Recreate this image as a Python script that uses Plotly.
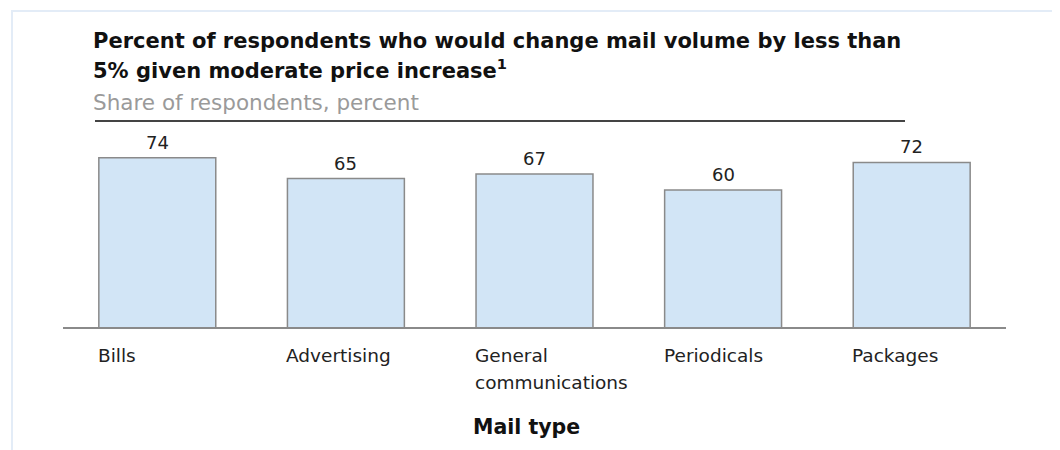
import plotly.graph_objects as go

categories = ["Bills", "Advertising", "General<br>communications", "Periodicals", "Packages"]
values = [74, 65, 67, 60, 72]
title_lines = ["Percent of respondents who would change mail volume by less than",
               "5% given moderate price increase<sup>1</sup>"]
subtitle_text = "Share of respondents, percent"
x_title = "Mail type"

# figure is placed by the page at (8, 8); screen coordinates below are converted
OFF = 8
W, H = 1052, 442
ML, MR, MT, MB = 55, 54, 113, 122
PW, PH = W - ML - MR, H - MT - MB
FONT = "DejaVu Sans, Verdana, sans-serif"
BAR_W = 0.62


def sx(p):
    return (p - OFF - ML) / PW


def sy(p):
    return (H - MB - (p - OFF)) / PH


xs = list(range(len(categories)))

fig = go.Figure()
fig.add_trace(go.Bar(
    x=xs, y=values, width=BAR_W,
    marker=dict(color="#d2e5f6", line=dict(color="#8a8a8a", width=1.5)),
    hoverinfo="skip",
))

annotations = []
for i, v in zip(xs, values):
    annotations.append(dict(x=i, y=v, xref="x", yref="y", text=str(v), showarrow=False,
                            yanchor="bottom", yshift=3,
                            font=dict(family=FONT, size=18, color="#222")))
for i, c in zip(xs, categories):
    for k, line in enumerate(c.split("<br>")):
        annotations.append(dict(x=i - BAR_W / 2, y=sy(355 + 27 * k), xref="x", yref="paper", text=line,
                                showarrow=False, xanchor="left", yanchor="middle", xshift=-3,
                                font=dict(family=FONT, size=18.5, color="#222")))
annotations.append(dict(x=sx(526.5), y=sy(427), xref="paper", yref="paper",
                        text="<b>%s</b>" % x_title, showarrow=False,
                        xanchor="center", yanchor="middle",
                        font=dict(family=FONT, size=20.5, color="#111")))
for k, line in enumerate(title_lines):
    annotations.append(dict(x=sx(91), y=sy(40.8 + 28.4 * k), xref="paper", yref="paper",
                            text="<b>%s</b>" % line, showarrow=False,
                            xanchor="left", yanchor="middle",
                            font=dict(family=FONT, size=21, color="#111")))
annotations.append(dict(x=sx(91), y=sy(102.5), xref="paper", yref="paper", text=subtitle_text,
                        showarrow=False, xanchor="left", yanchor="middle",
                        font=dict(family=FONT, size=21.5, color="#9a9a9a")))

shapes = [
    # header rule
    dict(type="line", xref="paper", yref="paper", x0=sx(95), x1=sx(905), y0=sy(121), y1=sy(121),
         line=dict(color="#444", width=2)),
    # baseline
    dict(type="line", xref="paper", yref="paper", x0=0, x1=1, y0=0, y1=0,
         line=dict(color="#8a8a8a", width=2)),
    # outer frame
    dict(type="rect", xref="paper", yref="paper", x0=sx(12), x1=sx(1057), y0=sy(480), y1=sy(11),
         line=dict(color="#e3ecf7", width=2), layer="below"),
]

fig.update_layout(
    width=W, height=H,
    margin=dict(l=ML, r=MR, t=MT, b=MB, pad=0),
    paper_bgcolor="white", plot_bgcolor="white",
    showlegend=False,
    xaxis=dict(range=[-0.5, 4.5], showticklabels=False, showgrid=False, zeroline=False, showline=False,
               ticks="", fixedrange=True),
    yaxis=dict(range=[0, 90], showticklabels=False, showgrid=False, zeroline=False, showline=False,
               ticks="", fixedrange=True),
    annotations=annotations,
    shapes=shapes,
)

fig.write_html("out.html")
